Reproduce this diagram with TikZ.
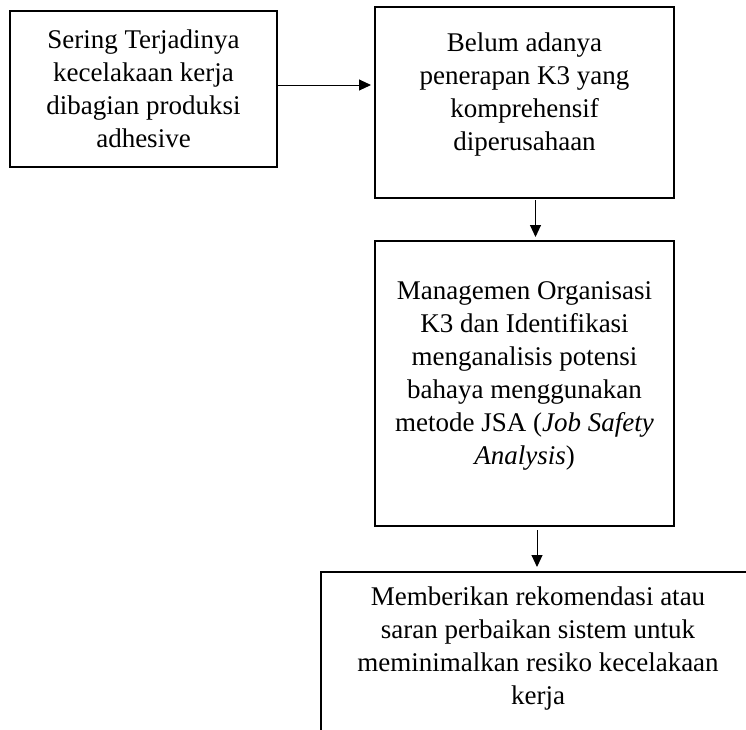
\documentclass[tikz,border=0pt]{standalone}
\usepackage{fontspec}
\setmainfont{Liberation Serif}
\usepackage{tikz}
\usetikzlibrary{calc}
\usetikzlibrary{arrows.meta}
\usetikzlibrary{positioning}
\tikzset{box/.style={draw=black, rectangle, line width=2.6pt, outer sep=0pt, align=center, font=\fontsize{27}{33}\selectfont}}
\tikzset{arr/.style={draw=black, line width=1pt, -{Triangle[length=12pt,width=11pt]}, shorten >=4pt}}

\begin{document}
\begin{tikzpicture}[node distance={15mm}]
		\useasboundingbox (0,0) rectangle (746pt,-729pt);
		\clip (0,0) rectangle (746pt,-729pt);
		\node[box, minimum width=267pt, minimum height=156pt] (A) at (143.5pt,-89pt) {Sering Terjadinya\\kecelakaan kerja\\dibagian produksi\\adhesive};
		\node[box, minimum width=299pt, minimum height=191pt, text depth=21pt] (B) [right=98pt of A, yshift=-13.5pt] {Belum adanya\\penerapan K3 yang\\komprehensif\\diperusahaan};
		\node[box, minimum width=299pt, minimum height=285pt, text depth=21pt] (C) [below=43pt of B] {Managemen Organisasi\\K3 dan Identifikasi\\menganalisis potensi\\bahaya menggunakan\\metode JSA (\textit{Job Safety}\\\textit{Analysis})};
		\node[box, minimum width=434pt, inner ysep=15pt, text depth=90pt] (D) [below=46pt of C, xshift=13.5pt] {Memberikan rekomendasi atau\\saran perbaikan sistem untuk\\meminimalkan resiko kecelakaan\\kerja};
		
		\draw[arr] ([yshift=4pt]A.east) -- ([yshift=4pt]A.east -| B.west);
		\draw[arr, shorten <=2pt] ([xshift=11pt]B.south) -- ([xshift=11pt]B.south |- C.north);
		\draw[arr, shorten <=4pt, shorten >=5pt] ([xshift=12.5pt]C.south) -- ([xshift=12.5pt]C.south |- D.north);
	\end{tikzpicture}
\end{document}
